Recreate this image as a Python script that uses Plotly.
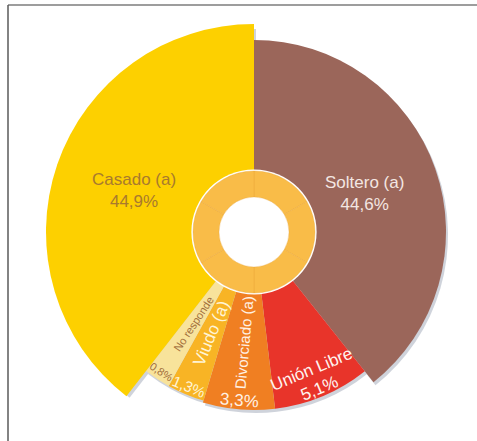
import math
import plotly.graph_objects as go

# ---- data -------------------------------------------------------------
categories = ["Soltero (a)", "Unión Libre", "Divorciado (a)", "Viudo (a)", "No responde", "Casado (a)"]
values = [44.6, 5.1, 3.3, 1.3, 0.8, 44.9]

# ---- styling ----------------------------------------------------------
colors = ["#9B665A", "#E8342A", "#F07F22", "#F8B425", "#F8E39B", "#FDD000"]
reach = [192, 178, 178, 176, 176, 208]          # outer radius of each wedge (px)
text_colors = ["#F4E7E3", "#FFF4F0", "#FFF1E4", "#FFF4D6", "#A26F3C", "#A87A2E"]
label_modes = ["inside", "tangent", "radial", "radial", "radial", "inside"]
name_sizes = [17, 17, 15, 17, 11, 17]
pct_sizes = [17, 17, 17, 15, 11, 17]

W, H = 477, 441
CX, CY = 254, 232          # centre of the wheel (px)
R_AXIS = 209               # radial axis length (px)
HOLE_R, RING_R = 35, 61    # inner ring
FONT = "Liberation Sans, Arial, Helvetica, sans-serif"

# angular scale is compressed so the small categories stay legible
EXP = 0.69
weights = [v ** EXP for v in values]
spans = [360 * w / sum(weights) for w in weights]
starts = []
acc = 0.0
for s in spans:
    starts.append(acc)
    acc += s
mids = [a + s / 2 for a, s in zip(starts, spans)]


def domain(cx, cy, half):
    return dict(x=[max(0, (cx - half) / W), min(1, (cx + half) / W)],
                y=[max(0, 1 - (cy + half) / H), min(1, 1 - (cy - half) / H)])


def polar_cfg(dom, rmax):
    return dict(
        domain=dom, bgcolor="rgba(0,0,0,0)", hole=0,
        radialaxis=dict(range=[0, rmax], visible=False, showgrid=False,
                        showline=False, showticklabels=False, ticks=""),
        angularaxis=dict(visible=False, direction="clockwise", rotation=90,
                         showgrid=False, showline=False, showticklabels=False, ticks=""),
    )


def to_paper(theta, rad):
    t = math.radians(theta)
    px = CX + rad * math.sin(t)
    py = CY - rad * math.cos(t)
    return px / W, 1 - py / H


def label(theta, rad, text, size, color, angle=0):
    x, y = to_paper(theta, rad)
    return dict(x=x, y=y, xref="paper", yref="paper", showarrow=False,
                xanchor="center", yanchor="middle", align="center",
                text=text, textangle=angle,
                font=dict(family=FONT, size=size, color=color))


fig = go.Figure()

# soft drop shadow, slightly offset down-right
SH_DX, SH_DY, SH_HALF = 2, 3, 206
fig.add_trace(go.Barpolar(
    r=reach, theta=mids, width=spans, subplot="polar",
    marker=dict(color="rgba(95,110,135,0.30)", line=dict(width=0)),
    hoverinfo="skip", showlegend=False))

# main wedges
fig.add_trace(go.Barpolar(
    r=reach, theta=mids, width=spans, subplot="polar2",
    marker=dict(color=colors, line=dict(width=0)),
    text=categories, hoverinfo="text", showlegend=False))

# white disc under the ring (gives the hole and the thin white rim)
fig.add_trace(go.Barpolar(
    r=[RING_R + 1.6, RING_R + 1.6], theta=[90, 270], width=[180, 180], subplot="polar2",
    marker=dict(color="white", line=dict(width=0)),
    hoverinfo="skip", showlegend=False))

# inner ring made of six faint segments
ring_theta = [30 + 60 * k for k in range(6)]
fig.add_trace(go.Barpolar(
    r=[RING_R - HOLE_R] * 6, base=[HOLE_R] * 6, theta=ring_theta, width=[60] * 6,
    subplot="polar2",
    marker=dict(color="#F9BC48", line=dict(color="rgba(228,160,50,0.45)", width=0.7)),
    hoverinfo="skip", showlegend=False))

# ---- labels -------------------------------------------------------------
annotations = []
for i, name in enumerate(categories):
    pct = f"{values[i]:.1f}".replace(".", ",") + "%"
    mode = label_modes[i]
    col = text_colors[i]
    if mode == "inside":
        annotations.append(label(mids[i], 0.61 * reach[i], f"{name}<br>{pct}",
                                 name_sizes[i], col))
        continue
    if mode == "tangent":
        annotations.append(label(mids[i], 0.835 * reach[i], name, name_sizes[i], col,
                                 mids[i] - 180))
    else:
        annotations.append(label(mids[i], 0.625 * reach[i], name, name_sizes[i], col,
                                 mids[i] - 270))
    annotations.append(label(mids[i], 0.95 * reach[i], pct, pct_sizes[i], col,
                             mids[i] - 180))

# frame lines along the top and left edges
shapes = [
    dict(type="line", xref="paper", yref="paper", x0=8 / W, x1=1, y0=1 - 5 / H, y1=1 - 5 / H,
         line=dict(color="#9d9d9d", width=2)),
    dict(type="line", xref="paper", yref="paper", x0=8 / W, x1=8 / W, y0=1 - 5 / H, y1=0,
         line=dict(color="#5a5a5a", width=1.5)),
]

fig.update_layout(
    width=W, height=H, margin=dict(l=0, r=0, t=0, b=0),
    paper_bgcolor="white", plot_bgcolor="white", showlegend=False,
    font=dict(family=FONT),
    polar=polar_cfg(domain(CX + SH_DX, CY + SH_DY, SH_HALF), SH_HALF),
    polar2=polar_cfg(domain(CX, CY, R_AXIS), R_AXIS),
    annotations=annotations, shapes=shapes,
)

fig.write_html("out.html", config={"displayModeBar": False})
